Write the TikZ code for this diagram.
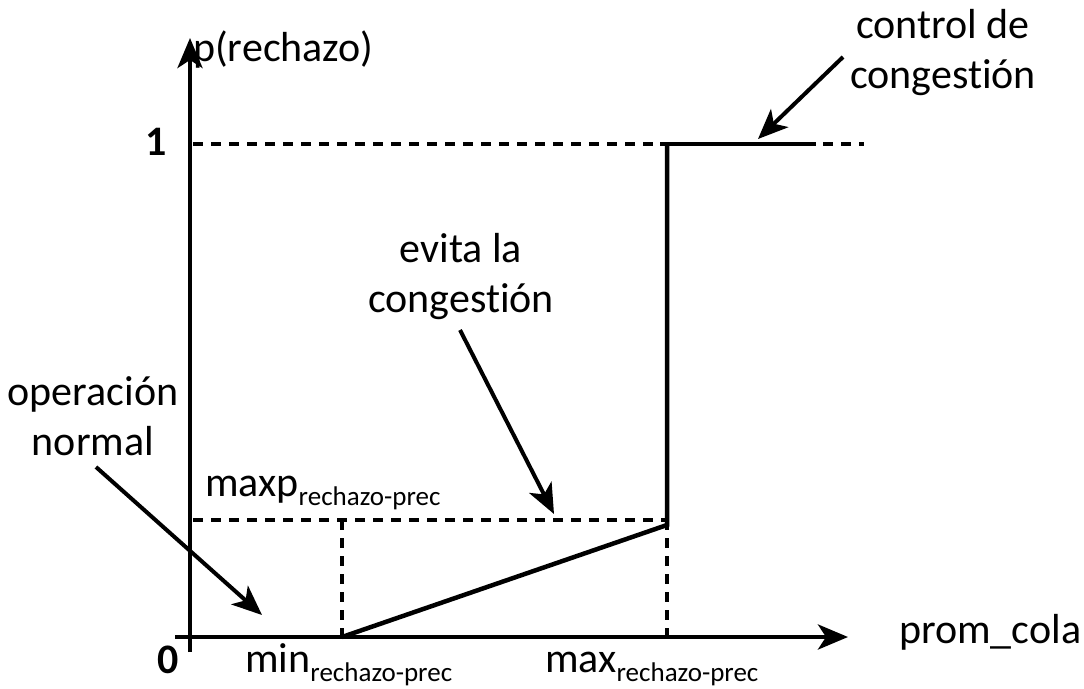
\documentclass[tikz,border=0pt]{standalone}
\usepackage{fontspec}
\setmainfont{Carlito}[Ligatures=NoCommon]
\usetikzlibrary{arrows.meta}
\tikzset{
  axis/.style={line width=4.5pt, -{Stealth[length=30pt,width=25pt,inset=8pt]}},
  curve/.style={line width=4.5pt},
  guide/.style={line width=4.5pt, dash pattern=on 10pt off 8pt},
  pointer/.style={line width=4pt, -{Stealth[length=30pt,width=25pt,inset=8pt]}},
  lbl/.style={inner sep=0pt, font=\fontsize{42}{50}\selectfont},
  tick/.style={inner sep=0pt, font=\fontsize{42}{50}\selectfont\bfseries},
}
\newcommand{\subtxt}[1]{\raisebox{-9pt}{\fontsize{27}{30}\selectfont #1}}
\begin{document}
\begin{tikzpicture}[x=1pt,y=-1pt]
  \useasboundingbox (0,0) rectangle (1084,688);
  % key points of the drop curve
  \coordinate (ymax) at (190,38);
  \coordinate (xstart) at (175,637);
  \coordinate (xmax) at (848,637);
  \coordinate (ybot) at (190,652);
  \coordinate (minpt) at (342,637);
  \coordinate (maxpt) at (667,637);
  \coordinate (pmin) at (342,520);
  \coordinate (pmax) at (667,520);
  \coordinate (pmaxlow) at (667,525);
  \coordinate (oneL) at (193,144);
  \coordinate (oneC) at (667,144);
  \coordinate (oneS) at (660,144);
  \coordinate (oneE) at (816,144);
  \coordinate (oneR) at (864,144);
  \coordinate (pL) at (193,520);

  % guide lines
  \draw[guide] (oneL) -- (oneR);
  \draw[guide] (pL) -- (pmax);
  \draw[guide] (pmin) -- (minpt);
  \draw[guide] (pmax) -- (maxpt);

  % axes
  \draw[axis] (ybot) -- (ymax);
  \draw[axis] (xstart) -- (xmax);

  % drop probability curve
  \draw[curve] (minpt) -- (pmaxlow) -- (oneC);
  \draw[curve] (oneS) -- (oneE);

  % labels
  \node[lbl, anchor=base west] (ylab) at (193,61) {p(rechazo)};
  \node[lbl, anchor=base west] (xlab) at (899,643) {prom\_cola};
  \node[tick, anchor=base] (one) at (156,155) {1};
  \node[tick, anchor=base] (zero) at (168,673) {0};
  \node[lbl, anchor=base west] (maxp) at (205,496) {maxp\subtxt{rechazo-prec}};
  \node[lbl, anchor=base west] (minl) at (245,672) {min\subtxt{rechazo-prec}};
  \node[lbl, anchor=base west] (maxl) at (545,672) {max\subtxt{rechazo-prec}};
  \node[lbl, anchor=base, align=center] (ctrl) at (943,88) {control de\\congestión};
  \node[lbl, anchor=base, align=center] (evita) at (461,312) {evita la\\congestión};
  \node[lbl, anchor=base, align=center] (oper) at (93,455) {operación\\normal};

  % pointers
  \coordinate (ctrlA) at (843,57);
  \coordinate (ctrlB) at (758,139);
  \coordinate (evitaA) at (460,330);
  \coordinate (evitaB) at (554,514);
  \coordinate (operA) at (96,467);
  \coordinate (operB) at (262,615);
  \draw[pointer] (ctrlA) -- (ctrlB);
  \draw[pointer] (evitaA) -- (evitaB);
  \draw[pointer] (operA) -- (operB);
\end{tikzpicture}
\end{document}
